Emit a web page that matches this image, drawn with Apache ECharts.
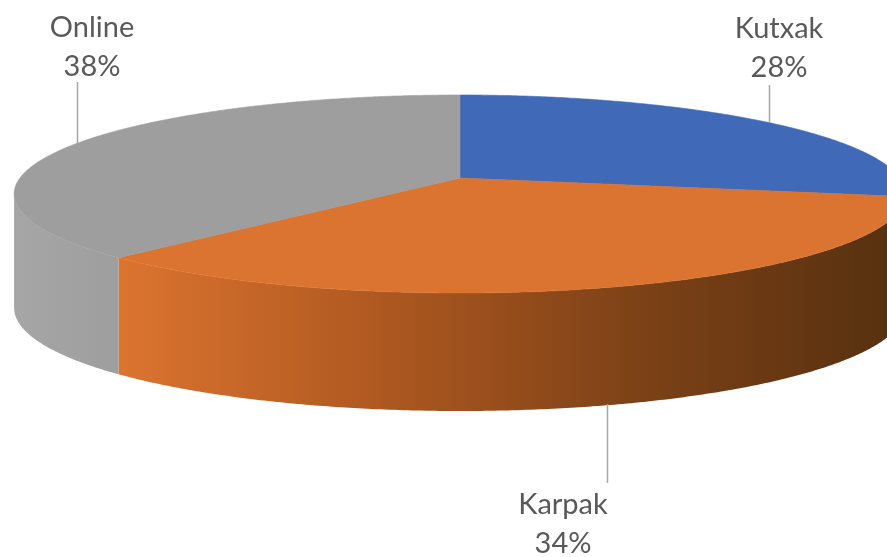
<!DOCTYPE html>
<html>
<head>
<meta charset="utf-8">
<script src="https://cdn.jsdelivr.net/npm/echarts@6/dist/echarts.min.js"></script>
<style>
html,body{margin:0;padding:0;background:#fff;}
#chart{width:887px;height:557px;}
</style>
</head>
<body>
<div id="chart"></div>
<script>
// ---- data ----
const categories = ['Kutxak', 'Karpak', 'Online'];
const values = [28, 34, 38];

// ---- styles ----
const topColors = ['#4069B7', '#DC7431', '#9E9E9E'];
const sideColors = [
  ['#2E4F8C', '#22396A'],
  ['#DC7430', '#AE5820', '#7C4117', '#55300F'],
  ['#A6A6A6', '#9E9E9E']
];
// label layout: text centre and line end, plus small anchor shift
const labelLayout = [
  { tx: 779, ty: 48, lineEnd: 85, dx: 2 },
  { tx: 563, ty: 524, lineEnd: 483, dx: -14 },
  { tx: 92, ty: 47, lineEnd: 82, dx: 3 }
];

// ---- 3D projection of the pie ----
const P = { cx: 460, cy: 178, f: 2657, D: 6.038, s: 0.2191, c: 0.9757, t0: 113, tk: 5 };
const RAD = Math.PI / 180;
function projTop(deg) {
  const a = deg * RAD, X = Math.sin(a), Z = Math.cos(a);
  const w = P.D + Z * P.c;
  return [P.cx + P.f * X / w, P.cy - P.f * Z * P.s / w];
}
function projBottom(deg) {
  const p = projTop(deg);
  return [p[0], p[1] + P.t0 - P.tk * Math.cos(deg * RAD)];
}
// silhouette angles (extreme x of top ellipse)
let thR = 90, thL = 270, maxX = -1e9, minX = 1e9;
for (let d = 0; d < 360; d += 0.1) {
  const p = projTop(d);
  if (p[0] > maxX) { maxX = p[0]; thR = d; }
  if (p[0] < minX) { minX = p[0]; thL = d; }
}
function arc(a0, a1, fn) {
  const pts = [];
  const n = Math.max(2, Math.ceil((a1 - a0) / 0.5));
  for (let i = 0; i <= n; i++) pts.push(fn(a0 + (a1 - a0) * i / n));
  return pts;
}

const total = values.reduce((a, b) => a + b, 0);
const starts = [];
let acc = 0;
values.forEach(v => { starts.push(acc / total * 360); acc += v; });

function renderItem(params, api) {
  const i = params.dataIndex;
  const v = api.value(0);
  const a0 = starts[i];
  const a1 = a0 + v / total * 360;
  const children = [];
  // side (visible front arc only)
  const s0 = Math.max(a0, thR), s1 = Math.min(a1, thL);
  if (s1 > s0) {
    const topPts = arc(s0, s1, projTop);
    const botPts = arc(s0, s1, projBottom).reverse();
    const xs = topPts.map(p => p[0]);
    const xmin = Math.min.apply(null, xs), xmax = Math.max.apply(null, xs);
    const cs = sideColors[i];
    children.push({
      type: 'polygon',
      z2: 1,
      shape: { points: topPts.concat(botPts) },
      style: {
        fill: {
          type: 'linear', x: xmin, y: 0, x2: xmax, y2: 0, global: true,
          colorStops: cs.map((c, k) => ({ offset: k / (cs.length - 1), color: c }))
        },
        stroke: null
      }
    });
  }
  // top face
  const topFace = [[P.cx, P.cy]].concat(arc(a0, a1, projTop));
  children.push({
    type: 'polygon',
    z2: 5,
    shape: { points: topFace },
    style: { fill: topColors[i], stroke: topColors[i], lineWidth: 0.6 }
  });
  // label + leader line
  const mid = (a0 + a1) / 2;
  const isFront = Math.cos(mid * RAD) < 0;
  const anchor = isFront ? projBottom(mid) : projTop(mid);
  const L = labelLayout[i];
  const lx = Math.round(anchor[0] + L.dx) + 0.5;
  children.push({
    type: 'line',
    z2: 10,
    shape: { x1: lx, y1: anchor[1], x2: lx, y2: L.lineEnd },
    style: { stroke: '#A6A6A6', lineWidth: 1.5 }
  });
  children.push({
    type: 'text',
    z2: 10,
    style: {
      text: categories[i] + '\n' + Math.round(v / total * 100) + '%',
      x: L.tx, y: L.ty,
      align: 'center', verticalAlign: 'middle',
      fill: '#595959',
      fontFamily: 'Lato', fontSize: 29, lineHeight: 39
    }
  });
  return { type: 'group', children: children };
}

const chart = echarts.init(document.getElementById('chart'), null, { renderer: 'canvas' });
chart.setOption({
  animation: false,
  backgroundColor: '#ffffff',
  series: [{
    type: 'custom',
    coordinateSystem: 'none',
    renderItem: renderItem,
    data: values.map((v, i) => ({ name: categories[i], value: [v] }))
  }]
});
</script>
</body>
</html>
